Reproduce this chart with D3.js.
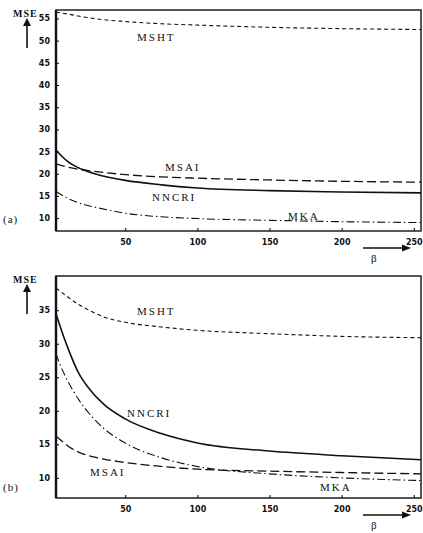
<!DOCTYPE html>
<html>
<head>
<meta charset="utf-8">
<script src="https://cdn.jsdelivr.net/npm/d3@7"></script>
<style>
  body { margin: 0; background: #fff; }
  svg { display: block; }
  .tick text { font-family: "DejaVu Sans", sans-serif; font-weight: bold; font-size: 8px; fill: #111; }
  .lbl { font-family: "Liberation Serif", serif; font-size: 11px; letter-spacing: 2px; fill: #111; }
</style>
</head>
<body>
<svg id="chart" width="423" height="533"></svg>
<script>
// beta values
var betaA = [2, 10, 20, 30, 50, 75, 100, 150, 200, 255]
// panel (a)
var mshtA  = [56.4, 56.0, 55.4, 54.9, 54.3, 53.8, 53.5, 53.0, 52.7, 52.5]
var msaiA  = [22.2, 21.5, 20.9, 20.5, 19.8, 19.3, 19.0, 18.6, 18.3, 18.1]
var nncriA = [25.3, 22.8, 21.0, 19.9, 18.5, 17.5, 16.8, 16.2, 15.9, 15.7]
var mkaA   = [16.0, 14.5, 13.2, 12.4, 11.1, 10.3, 9.9, 9.5, 9.2, 9.0]

// panel (b)
var betaB  = [2, 5, 10, 18, 25, 35, 50, 75, 100, 150, 200, 255]
var mshtB  = [38.3, 37.8, 37.0, 35.8, 35.0, 34.0, 33.2, 32.5, 32.0, 31.5, 31.1, 30.9]
var msaiB  = [16.2, 15.7, 14.8, 13.8, 13.3, 12.8, 12.3, 11.7, 11.3, 11.0, 10.8, 10.6]
var nncriB = [34.5, 32.5, 29.5, 25.5, 23.3, 21.0, 18.8, 16.6, 15.2, 14.0, 13.3, 12.7]
var mkaB   = [28.5, 26.8, 24.5, 21.6, 19.6, 17.4, 15.2, 13.0, 11.7, 10.6, 10.0, 9.6]

var xTicks = [50, 100, 150, 200, 250]
var yTicksA = [10, 15, 20, 25, 30, 35, 40, 45, 50, 55]
var yTicksB = [10, 15, 20, 25, 30, 35]

var svg = d3.select("#chart")

// Line styles per method
var styles = {
  MSHT:  {dash: "4,3", width: 1.1},
  MSAI:  {dash: "9,4", width: 1.3},
  NNCRI: {dash: null, width: 1.6},
  MKA:   {dash: "8,3,1.5,3", width: 1.1}
}

function drawPanel(opt) {
  var x = d3.scaleLinear().domain([2, 255]).range([56, 421])
  var y = d3.scaleLinear().domain(opt.yDomain).range([opt.bottom, opt.top])

  var g = svg.append("g")

  // axes with inward ticks
  g.append("g")
    .attr("transform", "translate(0," + opt.bottom + ")")
    .call(d3.axisBottom(x).tickValues(xTicks).tickSize(-3).tickPadding(8))
    .call(a => a.select(".domain").remove())
  g.append("g")
    .attr("transform", "translate(56,0)")
    .call(d3.axisLeft(y).tickValues(opt.yTicks).tickSize(-3).tickPadding(6))
    .call(a => a.select(".domain").remove())

  // frame
  g.append("rect")
    .attr("x", 56).attr("y", opt.top)
    .attr("width", 421 - 56).attr("height", opt.bottom - opt.top)
    .attr("fill", "none").attr("stroke", "#111").attr("stroke-width", 1.4)
  g.append("line")
    .attr("x1", 56).attr("x2", 56).attr("y1", opt.top).attr("y2", opt.bottom)
    .attr("stroke", "#111").attr("stroke-width", 2.4)

  var line = d3.line()
    .x(d => x(d[0]))
    .y(d => y(d[1]))
    .curve(d3.curveMonotoneX)

  opt.series.forEach(function(s) {
    var st = styles[s.name]
    g.append("path")
      .datum(opt.beta.map((b, i) => [b, s.values[i]]))
      .attr("d", line)
      .attr("fill", "none")
      .attr("stroke", "#111")
      .attr("stroke-width", st.width)
      .attr("stroke-dasharray", st.dash)
    g.append("text")
      .attr("class", "lbl")
      .attr("x", s.label[0]).attr("y", s.label[1])
      .text(s.name)
  })

  // MSE label + up arrow
  g.append("text").attr("class", "lbl").style("font-size", "10px").style("letter-spacing", "1px")
    .style("font-weight", "bold")
    .attr("x", 13).attr("y", opt.top + 7).text("MSE")
  g.append("line").attr("x1", 27).attr("x2", 27)
    .attr("y1", opt.top + 38).attr("y2", opt.top + 14)
    .attr("stroke", "#111").attr("stroke-width", 1.6)
  g.append("path")
    .attr("d", "M23," + (opt.top + 16) + "L27," + (opt.top + 8) + "L31," + (opt.top + 16) + "Z")
    .attr("fill", "#111")

  // panel tag
  g.append("text").attr("class", "lbl").style("letter-spacing", "1px")
    .attr("x", 3).attr("y", opt.tagY).text(opt.tag)

  // beta arrow
  var ay = opt.bottom + 17
  g.append("line").attr("x1", 363).attr("x2", 404).attr("y1", ay).attr("y2", ay)
    .attr("stroke", "#111").attr("stroke-width", 1.6)
  g.append("path")
    .attr("d", "M402," + (ay - 3.5) + "L411," + ay + "L402," + (ay + 3.5) + "Z")
    .attr("fill", "#111")
  g.append("text").attr("class", "lbl")
    .attr("x", 371).attr("y", ay + 14).text("β")
}

drawPanel({
  top: 10, bottom: 231, yDomain: [7.1, 56.9], yTicks: yTicksA,
  beta: betaA, tag: "(a)", tagY: 223,
  series: [
    {name: "MSHT", values: mshtA, label: [137, 41]},
    {name: "MSAI", values: msaiA, label: [165, 171]},
    {name: "NNCRI", values: nncriA, label: [152, 201]},
    {name: "MKA", values: mkaA, label: [288, 220]}
  ]
})

drawPanel({
  top: 276, bottom: 498, yDomain: [7.0, 40.1], yTicks: yTicksB,
  beta: betaB, tag: "(b)", tagY: 491,
  series: [
    {name: "MSHT", values: mshtB, label: [137, 315]},
    {name: "NNCRI", values: nncriB, label: [127, 417]},
    {name: "MSAI", values: msaiB, label: [90, 476]},
    {name: "MKA", values: mkaB, label: [320, 491]}
  ]
})
</script>
</body>
</html>
